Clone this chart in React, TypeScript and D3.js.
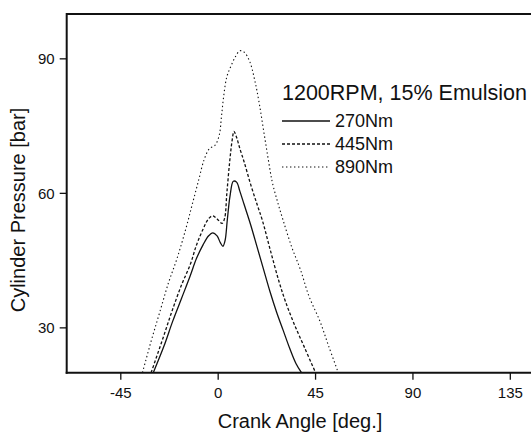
import React from "react";
import * as d3 from "d3";

const W = 531;
const H = 433;

const xTicks = [-45, 0, 45, 90, 135];
const yTicks = [30, 60, 90];

const seriesNames = ["270Nm", "445Nm", "890Nm"];
const legendTitle = "1200RPM, 15% Emulsion";

const s270: [number, number][] = [
  [-30, 20], [-25, 26], [-21, 31.5], [-17, 36.5], [-13, 41.5], [-10, 45.5], [-7, 48.5],
  [-4.5, 50.5], [-2.5, 51.2], [-0.5, 50.5], [1, 49], [2.2, 48.2], [3.2, 49.5], [4.2, 54],
  [5.5, 59.5], [7, 62.7], [8.5, 62.5], [10, 60.5], [12, 57.5], [15, 53], [18, 48],
  [21, 43], [24, 38], [27, 33.5], [30, 29.5], [33, 25.5], [36, 22], [38.5, 20],
];
const s445: [number, number][] = [
  [-31, 20], [-26, 27], [-21.5, 33.5], [-17, 39.5], [-13, 44], [-10, 48.5], [-7, 52],
  [-4.5, 54.3], [-2.5, 55], [-0.5, 54.3], [1.8, 53.3], [3, 54.5], [4, 60], [5.3, 67],
  [6.5, 72], [7.3, 73.8], [8.5, 72.5], [10, 70], [12, 67], [15, 62], [18, 57.5],
  [20.4, 54], [24, 47.5], [28, 40.5], [31, 36], [35, 31], [40, 25.5], [45, 20],
];
const s890: [number, number][] = [
  [-35, 20], [-31, 27], [-27, 33.5], [-23, 40], [-19, 45.5], [-15, 52], [-12, 57.5],
  [-9, 63], [-6.5, 67.5], [-4, 70], [-1.5, 70.7], [0.5, 73], [1.5, 77], [2.5, 81.5],
  [4, 86], [6, 88.5], [8, 90.5], [10, 91.8], [12, 91.5], [14.5, 89.5], [17, 85],
  [19, 80], [21, 74], [23, 68], [25, 62.5], [27.5, 58], [30, 54], [34, 48], [38, 43],
  [42, 37], [47, 31.5], [51, 26], [55.5, 20],
];

const seriesData = [s270, s445, s890];
const dashes = [null, "3,2", "1.4,2.6"];
const widths = [1.3, 1.3, 1.1];

const FONT = "'Liberation Sans', Arial, Helvetica, sans-serif";

export default function App() {
  const left = 66.7;
  const top = 14;
  const bottom = 372.7;
  const x = d3.scaleLinear().domain([-70, 180]).range([left, left + 250 * 2.164]);
  const y = d3.scaleLinear().domain([20, 100]).range([bottom, top]);
  const line = d3
    .line<[number, number]>()
    .x((d) => x(d[0]))
    .y((d) => y(d[1]))
    .curve(d3.curveCatmullRom.alpha(0.5));

  const legendX = 282;
  const legendYs = [121, 144, 167];

  return (
    <svg
      width={W}
      height={H}
      style={{ position: "absolute", left: 0, top: 0, background: "#fff" }}
      fontFamily={FONT}
    >
      <rect x={0} y={0} width={W} height={H} fill="#fff" />
      <defs>
        <clipPath id="plotclip">
          <rect x={left} y={top} width={W - left} height={bottom - top} />
        </clipPath>
      </defs>
      <g clipPath="url(#plotclip)">
        {seriesData.map((s, i) => (
          <path
            key={i}
            d={line(s) || ""}
            fill="none"
            stroke="#111"
            strokeWidth={widths[i]}
            strokeDasharray={dashes[i] || undefined}
          />
        ))}
      </g>
      {/* frame */}
      <line x1={left} x2={W} y1={top} y2={top} stroke="#111" strokeWidth={1.8} />
      <line x1={left} x2={left} y1={top - 0.9} y2={bottom + 1} stroke="#111" strokeWidth={2} />
      <line x1={left - 1} x2={W} y1={bottom} y2={bottom} stroke="#111" strokeWidth={2} />
      {/* y ticks */}
      {yTicks.map((t) => (
        <g key={t}>
          <line x1={left - 7} x2={left} y1={y(t)} y2={y(t)} stroke="#111" strokeWidth={1.3} />
          <text x={left - 12} y={y(t)} dy="0.36em" textAnchor="end" fontSize={15} fill="#111">
            {t}
          </text>
        </g>
      ))}
      {/* x ticks */}
      {xTicks.map((t) => (
        <g key={t}>
          <line x1={x(t)} x2={x(t)} y1={bottom} y2={bottom + 7} stroke="#111" strokeWidth={1.3} />
          <text x={x(t)} y={398} textAnchor="middle" fontSize={15} fill="#111">
            {t}
          </text>
        </g>
      ))}
      <text x={300} y={428} textAnchor="middle" fontSize={20} fill="#111">
        Crank Angle [deg.]
      </text>
      <text
        transform={`translate(25,${210}) rotate(-90)`}
        textAnchor="middle"
        fontSize={20}
        fill="#111"
      >
        Cylinder Pressure [bar]
      </text>
      {/* legend */}
      <text x={legendX} y={99.5} fontSize={21.5} fill="#111">
        {legendTitle}
      </text>
      {seriesNames.map((n, i) => (
        <g key={n}>
          <line
            x1={legendX}
            x2={330}
            y1={legendYs[i]}
            y2={legendYs[i]}
            stroke="#111"
            strokeWidth={widths[i]}
            strokeDasharray={dashes[i] || undefined}
          />
          <text x={335} y={legendYs[i]} dy="0.36em" fontSize={18} fill="#111">
            {n}
          </text>
        </g>
      ))}
    </svg>
  );
}
